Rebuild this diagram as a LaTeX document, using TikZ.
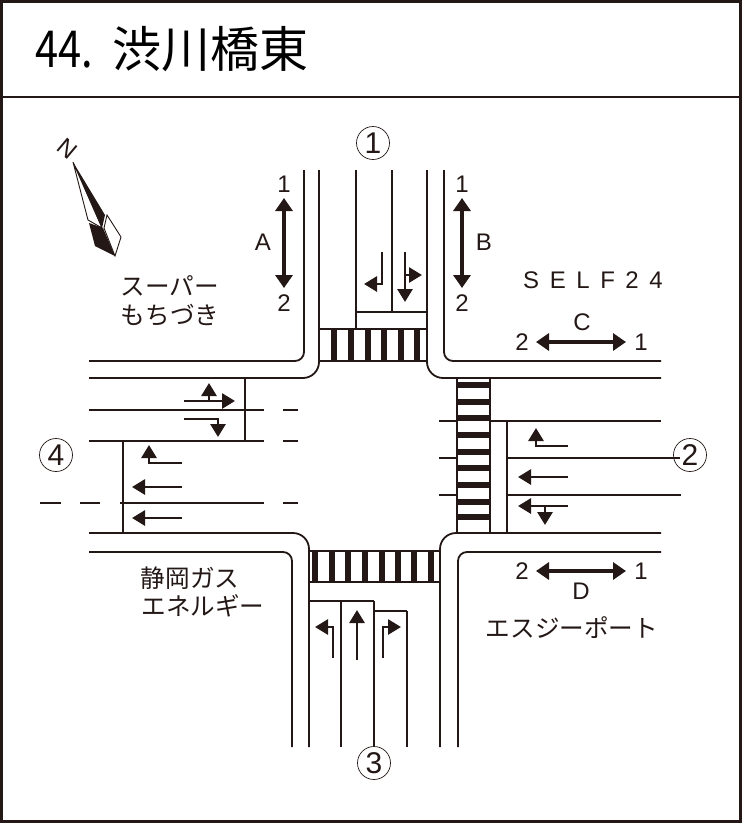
\documentclass[tikz,border=0pt]{standalone}
\usepackage{fontspec}
\usepackage{graphicx}
\usetikzlibrary{arrows.meta}
\setmainfont{Liberation Sans}
\newfontfamily\jp{Noto Sans CJK JP}
\definecolor{ink}{HTML}{231815}
\tikzset{
  road/.style={draw=ink,line width=1.8pt},
  thinroad/.style={draw=ink,line width=1.6pt},
  stripe/.style={fill=ink,draw=none},
  lanearrow/.style={draw=ink,line width=2.8pt,-{Triangle[length=13pt,width=15pt]}},
  bothway/.style={draw=ink,line width=3.8pt,{Triangle[length=13pt,width=17pt]}-{Triangle[length=13pt,width=17pt]}},
  lat/.style={text=ink,font=\fontsize{24}{24}\selectfont,inner sep=0pt},
  jplabel/.style={text=ink,font=\fontsize{24.6}{25}\jp,inner sep=0pt},
  approach/.style={circle,draw=ink,line width=0.7pt,minimum size=33pt,inner sep=0pt,text=ink,font=\fontsize{30}{30}\selectfont}
}
\begin{document}
\begin{tikzpicture}[x=1pt,y=-1pt]
\useasboundingbox (0,0) rectangle (742,823);
\fill[white] (0,0) rectangle (742,823);
% frame
\draw[ink,line width=3pt] (1.5,1.5) rectangle (740.5,821.5);
\draw[ink,line width=2.5pt] (0,97) -- (742,97);
\node[anchor=base west,inner sep=0pt,text=black,font=\fontsize{49}{49}\jp] (title) at (35,67) {\scalebox{0.85}[1.04]{44.}\hspace{19pt}渋川橋東};
% north road
\draw[road,rounded corners=9pt] (304,170) -- (304,361) -- (89,361);
\draw[road,rounded corners=16pt] (319,170) -- (319,378) -- (89,378);
\draw[road,rounded corners=16pt] (427,170) -- (427,378) -- (661,378);
\draw[road,rounded corners=9pt] (444,170) -- (444,361) -- (661,361);
\draw[thinroad] (356,170) -- (356,329);
\draw[thinroad] (392,170) -- (392,312);
\draw[thinroad] (356,312) -- (427,312);
% north crossing
\draw[thinroad] (319,329) -- (427,329);
\draw[thinroad] (319,361) -- (427,361);
\foreach \x in {334,351,368,384,401,417} \fill[stripe] (\x-3,329) rectangle (\x+3,361);
% west road
\draw[road] (89,410) -- (264,410);
\draw[road] (89,441) -- (264,441);
\draw[road] (283,410) -- (298,410);
\draw[road] (283,441) -- (298,441);
\draw[road] (245,378) -- (245,441);
\draw[road] (123,441) -- (123,533);
\draw[road] (40,503) -- (61,503);
\draw[road] (80,503) -- (100,503);
\draw[road] (120,503) -- (264,503);
\draw[road] (283,503) -- (298,503);
% south road
\draw[road,rounded corners=16pt] (89,533) -- (309,533) -- (309,747);
\draw[road,rounded corners=9pt] (89,552) -- (292,552) -- (292,747);
\draw[road,rounded corners=16pt] (661,533) -- (440,533) -- (440,747);
\draw[road,rounded corners=9pt] (661,552) -- (458,552) -- (458,747);
\draw[thinroad] (309,551) -- (440,551);
\draw[thinroad] (309,582) -- (440,582);
\foreach \x in {315,332,348,365,382,398,414,431} \fill[stripe] (\x-3,551) rectangle (\x+3,582);
\draw[road] (309,601) -- (374,601);
\draw[road] (374,611) -- (407,611);
\draw[road] (341,601) -- (341,747);
\draw[road] (374,601) -- (374,747);
\draw[road] (407,611) -- (407,747);
% east road
\draw[road] (457,378) -- (457,533);
\draw[road] (490,378) -- (490,533);
\foreach \y in {385,402,418,435,452,468,485,502,517} \fill[stripe] (457,\y-3) rectangle (490,\y+3);
\draw[road] (439,421) -- (457,421);
\draw[road] (490,421) -- (661,421);
\draw[road] (439,458) -- (457,458);
\draw[road] (507,458) -- (680,458);
\draw[road] (439,495) -- (457,495);
\draw[road] (507,495) -- (681,495);
\draw[road] (507,421) -- (507,533);
% lane arrows north
\draw[lanearrow] (382,252) -- (382,284) -- (364,284);
\draw[lanearrow] (405,252) -- (405,302);
\draw[lanearrow] (405,275) -- (422,275);
% lane arrows west
\draw[lanearrow] (184,401) -- (235,401);
\draw[lanearrow] (209,401) -- (209,383);
\draw[lanearrow] (184,419) -- (218,419) -- (218,437);
\draw[lanearrow] (182,463) -- (149,463) -- (149,445);
\draw[lanearrow] (182,487) -- (132,487);
\draw[lanearrow] (182,518) -- (132,518);
% lane arrows east
\draw[lanearrow] (568,446) -- (536,446) -- (536,428);
\draw[lanearrow] (568,477) -- (518,477);
\draw[lanearrow] (568,506) -- (518,506);
\draw[lanearrow] (545,506) -- (545,525);
% lane arrows south
\draw[lanearrow] (333,658) -- (333,627) -- (315,627);
\draw[lanearrow] (357,660) -- (357,610);
\draw[lanearrow] (383,658) -- (383,627) -- (401,627);
% section arrows
\draw[bothway] (284,198) -- (284,288);
\draw[bothway] (462,198) -- (462,288);
\draw[bothway] (536,342) -- (626,342);
\draw[bothway] (536,571) -- (626,571);
\node[lat] (a1) at (284,184) {1};
\node[lat] (a2) at (284,303) {2};
\node[lat] (alabel) at (263,242) {A};
\node[lat] (b1) at (462,184) {1};
\node[lat] (b2) at (462,303) {2};
\node[lat] (blabel) at (484,242) {B};
\node[lat] (c2) at (522,342) {2};
\node[lat] (c1) at (641,342) {1};
\node[lat] (clabel) at (582,322) {C};
\node[lat] (d2) at (522,571) {2};
\node[lat] (d1) at (641,571) {1};
\node[lat] (dlabel) at (581,591) {D};
\node[lat,font=\fontsize{24}{24}\selectfont\addfontfeature{LetterSpace=44}] (self) at (593,280) {SELF24};
% place names
\node[jplabel] (p1) at (170,286) {スーパー};
\node[jplabel] (p2) at (170,315) {もちづき};
\node[jplabel] (p3) at (190,578) {静岡ガス};
\node[jplabel] (p4) at (203,606) {エネルギー};
\node[jplabel] (p5) at (572,628) {エスジーポート};
% approaches
\node[approach] (n1) at (373,143) {1};
\node[approach] (n2) at (690,455) {2};
\node[approach] (n3) at (374,763) {3};
\node[approach] (n4) at (56,455) {4};
% compass
\fill[white,draw=ink,line width=0.9pt] (73,162) -- (88,220) -- (102,228) -- cycle;
\fill[ink] (73,162) -- (105,215) -- (102,228) -- cycle;
\fill[ink] (89,223) -- (103,228) -- (115,256) -- (95,246) -- cycle;
\draw[ink,fill=white,line width=0.9pt] (107,215) -- (121,237) -- (115,256) -- (104,228) -- cycle;
\node[text=ink,inner sep=0pt,rotate=-40,font=\fontsize{24}{24}\selectfont] (north) at (67,149) {N};
\end{tikzpicture}
\end{document}
